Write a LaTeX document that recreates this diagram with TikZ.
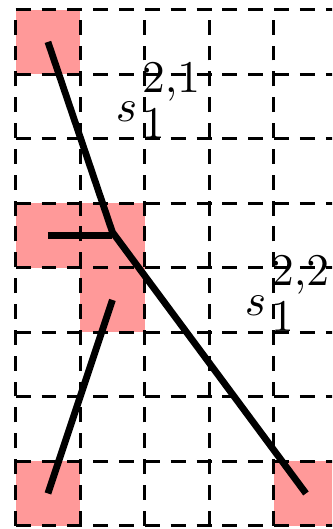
\documentclass[tikz,border=0pt]{standalone}
\usepackage{amsmath,amssymb}
\usepackage{tikz}
\newcommand{\sidx}[2]{$s\mkern2mu\rlap{\raisebox{6.5pt}{$#1$}}\raisebox{-3.6pt}{$#2$}$}

\begin{document}
\begin{tikzpicture}[x=0.5cm, y=0.5cm, every node/.style={font=\normalsize, inner sep=0pt},
  cell/.style={fill=red!40},
  gridline/.style={line width=0.6pt, dash pattern=on 3.3pt off 2.4pt},
  seg/.style={line width=1.5pt}]
\useasboundingbox (-0.243,-0.051) rectangle (4.904,8.150);
\clip (-0.243,-0.051) rectangle (4.904,8.150);
\fill[cell] (0,7) rectangle (1,8);
\fill[cell] (0,4) rectangle (2,5);
\fill[cell] (1,3) rectangle (2,4);
\fill[cell] (0,0) rectangle (1,1);
\fill[cell] (4,0) rectangle (5,1);
\draw[gridline, step={(1,1)}] (0,0) grid (5,8);
\coordinate (T) at (0.5,7.5);
\coordinate (J) at (1.5,4.55);
\coordinate (S) at (0.5,4.5);
\coordinate (E) at (1.5,4.5);
\coordinate (R) at (4.5,0.5);
\coordinate (U) at (1.5,3.5);
\coordinate (L) at (0.5,0.5);
\draw[seg] (T) -- (J) -- (R);
\draw[seg] (S) -- (E);
\draw[seg] (U) -- (L);
\node[anchor=base west] (s21) at (1.54,6.26) {\sidx{2{,}1}{1}};
\node[anchor=base west] (s22) at (3.54,3.26) {\sidx{2{,}2}{1}};
\end{tikzpicture}
\end{document}
